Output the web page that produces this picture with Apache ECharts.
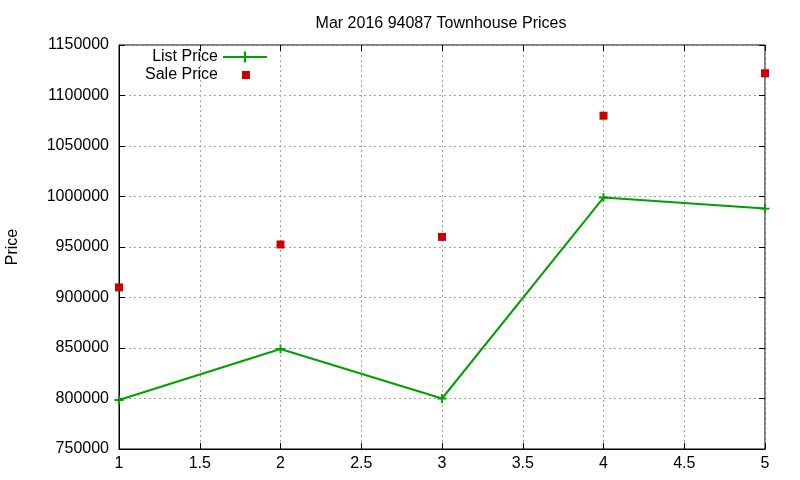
<!DOCTYPE html>
<html>
<head>
<meta charset="utf-8">
<script src="https://cdn.jsdelivr.net/npm/echarts@6/dist/echarts.min.js"></script>
<style>
  html, body { margin: 0; padding: 0; background: #fff; }
  #main { width: 800px; height: 480px; }
</style>
</head>
<body>
<div id="main"></div>
<script>
var xValues = [1, 2, 3, 4, 5];
var listPrice = [798500, 849000, 800000, 999000, 988000];
var salePrice = [910000, 952500, 960000, 1080000, 1122000];
var xTicks = { min: 1, max: 5, step: 0.5 };
var yTicks = { min: 750000, max: 1150000, step: 50000 };

var myChart = echarts.init(document.getElementById('main'));

var font = 'Liberation Sans, Arial, sans-serif';
var plusPath = 'path://M4,0h2v4h4v2h-4v4h-2v-4h-4v-2h4z';

function pairs(ys) {
    return xValues.map(function (x, i) { return [x, ys[i]]; });
}

var gridLine = { show: true, lineStyle: { color: '#a0a0a0', type: [2, 3], width: 1 } };

var option = {
    animation: false,
    title: {
        text: 'Mar 2016 94087 Townhouse Prices',
        left: 436,
        textAlign: 'center',
        top: 11,
        textStyle: { fontFamily: font, fontSize: 16, fontWeight: 'normal', color: '#000' }
    },
    legend: {
        orient: 'vertical',
        align: 'right',
        left: 145,
        top: 49,
        padding: 0,
        itemWidth: 44,
        itemHeight: 14,
        itemGap: 2,
        textStyle: { fontFamily: font, fontSize: 16, color: '#000' },
        data: [
            { name: 'List Price' },
            { name: 'Sale Price', icon: 'path://M0,0M44,14M19,3h8v8h-8z' }
        ]
    },
    grid: {
        left: 119, right: 35, top: 45, bottom: 31,
        outerBoundsMode: 'none',
        show: true, borderColor: '#000', borderWidth: 1, backgroundColor: 'transparent'
    },
    xAxis: [{
        type: 'value',
        min: xTicks.min, max: xTicks.max, interval: xTicks.step,
        axisLine: { show: true, lineStyle: { color: '#000' } },
        axisTick: { show: true, inside: true, length: 6, lineStyle: { color: '#000' } },
        axisLabel: { margin: 7, color: '#000', fontFamily: font, fontSize: 16 },
        splitLine: gridLine
    }, {
        type: 'value', position: 'top',
        min: xTicks.min, max: xTicks.max, interval: xTicks.step,
        axisLine: { show: false },
        axisTick: { show: true, inside: true, length: 6, lineStyle: { color: '#000' } },
        axisLabel: { show: false },
        splitLine: { show: false }
    }],
    yAxis: [{
        type: 'value',
        min: yTicks.min, max: yTicks.max, interval: yTicks.step,
        name: 'Price',
        nameLocation: 'middle',
        nameGap: 98,
        nameTextStyle: { fontFamily: font, fontSize: 16, color: '#000' },
        axisLine: { show: true, lineStyle: { color: '#000' } },
        axisTick: { show: true, inside: true, length: 6, lineStyle: { color: '#000' } },
        axisLabel: {
            margin: 10, color: '#000', fontFamily: font, fontSize: 16,
            formatter: function (v) { return String(v); }
        },
        splitLine: gridLine
    }, {
        type: 'value', position: 'right',
        min: yTicks.min, max: yTicks.max, interval: yTicks.step,
        axisLine: { show: false },
        axisTick: { show: true, inside: true, length: 6, lineStyle: { color: '#000' } },
        axisLabel: { show: false },
        splitLine: { show: false }
    }],
    series: [{
        name: 'List Price',
        type: 'line',
        data: pairs(listPrice),
        symbol: plusPath,
        symbolSize: 9,
        showAllSymbol: true,
        itemStyle: { color: '#00a000' },
        lineStyle: { color: '#00a000', width: 2 }
    }, {
        name: 'Sale Price',
        type: 'scatter',
        data: pairs(salePrice),
        symbol: 'rect',
        symbolSize: 8,
        itemStyle: { color: '#cc0000', opacity: 1 }
    }]
};

myChart.setOption(option);
</script>
</body>
</html>
